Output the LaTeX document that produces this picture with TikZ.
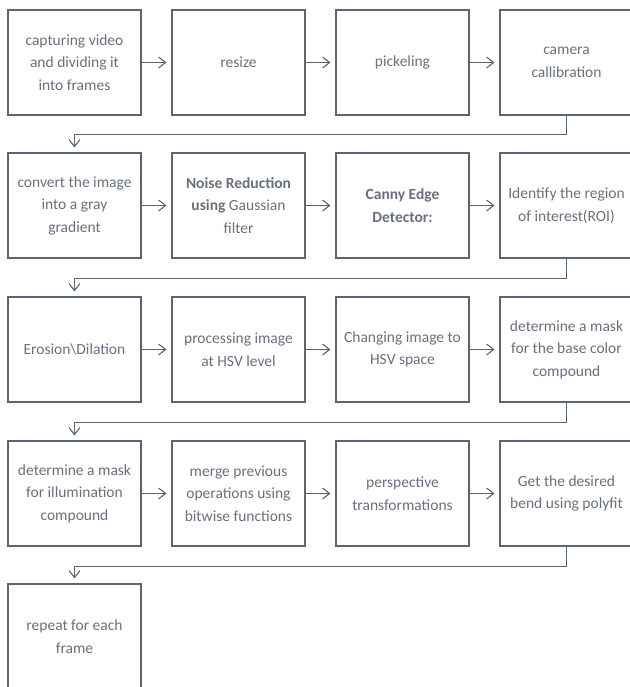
\documentclass[tikz,border=0pt]{standalone}
\usepackage{fontspec}
\setmainfont{Carlito}
\usepackage{xcolor}
\definecolor{boxline}{RGB}{92,101,118}
\definecolor{boxtext}{RGB}{104,112,126}
\usetikzlibrary{arrows.meta}

\tikzset{
  stage/.style={draw=boxline,line width=1.1pt,text=boxtext,
    minimum width=133pt,minimum height=105pt,
    inner sep=0pt,align=center,
    font=\fontsize{15.5}{22.5}\selectfont},
  flow/.style={draw=boxline,line width=1.1pt,->,shorten >=5pt},
}

\begin{document}
\begin{tikzpicture}[x=1pt,y=-1pt]
\useasboundingbox (0,0) rectangle (629,687);
\begin{scope}[>={Straight Barb[length=7pt,width=11pt,line width=1.1pt]}]
    % row 1
    \node[stage] (capture) at (74.5,62.5) {capturing video\\and dividing it\\into frames};
    \node[stage] (resize)  at (238.5,62.5) {resize};
    \node[stage] (pickle)  at (402.5,62.5) {pickeling};
    \node[stage] (calib)   at (566.5,62.5) {camera\\callibration};

    % row 2
    \node[stage] (gray)  at (74.5,205.5) {convert the image\\into a gray\\gradient};
    \node[stage] (noise) at (238.5,205.5) {\textbf{Noise Reduction}\\\textbf{using} Gaussian\\filter};
    \node[stage] (canny) at (402.5,205.5) {\textbf{Canny Edge}\\\textbf{Detector:}};
    \node[stage] (roi)   at (566.5,205.5) {Identify the region\\of interest(ROI)};

    % row 3
    \node[stage] (erode)    at (74.5,349.5) {Erosion\textbackslash Dilation};
    \node[stage] (hsvlevel) at (238.5,349.5) {processing image\\at HSV level};
    \node[stage] (hsvspace) at (402.5,349.5) {Changing image to\\HSV space};
    \node[stage] (basemask) at (566.5,349.5) {determine a mask\\for the base color\\compound};

    % row 4
    \node[stage] (illmask) at (74.5,493.5) {determine a mask\\for illumination\\compound};
    \node[stage] (merge)   at (238.5,493.5) {merge previous\\operations using\\bitwise functions};
    \node[stage] (persp)   at (402.5,493.5) {perspective\\transformations};
    \node[stage] (polyfit) at (566.5,493.5) {Get the desired\\bend using polyfit};

    % row 5
    \node[stage] (again) at (74.5,636.5) {repeat for each\\frame};

    \draw[flow] (capture) -- (resize);
    \draw[flow] (resize) -- (pickle);
    \draw[flow] (pickle) -- (calib);
    \draw[flow] (calib.south) -- ++(0,19) -| (gray.north);

    \draw[flow] (gray) -- (noise);
    \draw[flow] (noise) -- (canny);
    \draw[flow] (canny) -- (roi);
    \draw[flow] (roi.south) -- ++(0,20) -| (erode.north);

    \draw[flow] (erode) -- (hsvlevel);
    \draw[flow] (hsvlevel) -- (hsvspace);
    \draw[flow] (hsvspace) -- (basemask);
    \draw[flow] (basemask.south) -- ++(0,20) -| (illmask.north);

    \draw[flow] (illmask) -- (merge);
    \draw[flow] (merge) -- (persp);
    \draw[flow] (persp) -- (polyfit);
    \draw[flow] (polyfit.south) -- ++(0,19.5) -| (again.north);
\end{scope}
\end{tikzpicture}
\end{document}
